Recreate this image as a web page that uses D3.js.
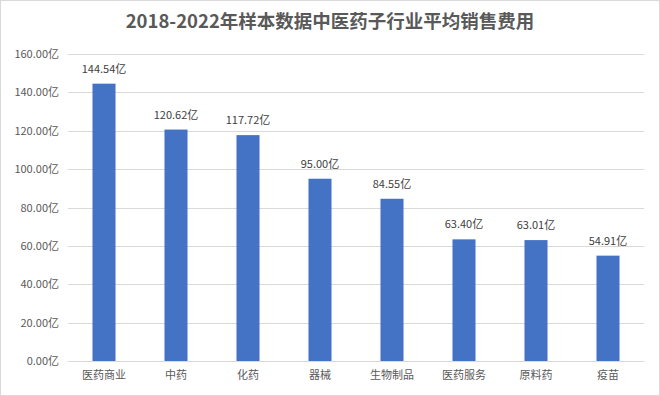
<!DOCTYPE html>
<html>
<head>
<meta charset="utf-8">
<script src="https://cdn.jsdelivr.net/npm/d3@7"></script>
<style>
  body { margin: 0; background: #fff; }
  svg { display: block; font-family: "Noto Sans CJK SC", "Noto Sans", sans-serif; }
</style>
</head>
<body>
<svg id="chart" width="660" height="396"></svg>
<script>
const categories = ["医药商业", "中药", "化药", "器械", "生物制品", "医药服务", "原料药", "疫苗"];
const values = [144.54, 120.62, 117.72, 95.00, 84.55, 63.40, 63.01, 54.91];
const yTicks = [0, 20, 40, 60, 80, 100, 120, 140, 160];
const title = "2018-2022年样本数据中医药子行业平均销售费用";

const W = 660, H = 396;
const margin = {top: 54, right: 16, bottom: 35, left: 68};

const svg = d3.select("#chart");

svg.append("rect")
  .attr("x", 0.5).attr("y", 0.5)
  .attr("width", W - 1).attr("height", H - 1)
  .attr("fill", "#fff")
  .attr("stroke", "#d9d9d9");

svg.append("text")
  .attr("x", W / 2)
  .attr("y", 28)
  .attr("text-anchor", "middle")
  .attr("font-size", 18.5)
  .attr("font-weight", "bold")
  .attr("fill", "#595959")
  .text(title);

const x = d3.scaleBand()
  .domain(categories)
  .range([margin.left, W - margin.right])
  .paddingInner(0.68)
  .paddingOuter(0.34);

const y = d3.scaleLinear()
  .domain([0, 160])
  .range([H - margin.bottom, margin.top]);

// gridlines
svg.append("g")
  .selectAll("line")
  .data(yTicks)
  .join("line")
  .attr("x1", margin.left)
  .attr("x2", W - margin.right)
  .attr("y1", d => Math.round(y(d)) + 0.5)
  .attr("y2", d => Math.round(y(d)) + 0.5)
  .attr("stroke", "#d9d9d9");

// y axis labels
const yAxis = d3.axisLeft(y)
  .tickValues(yTicks)
  .tickSize(0)
  .tickPadding(9)
  .tickFormat(d => d.toFixed(2) + "亿");

svg.append("g")
  .attr("transform", `translate(${margin.left},0)`)
  .call(yAxis)
  .call(g => g.select(".domain").remove())
  .call(g => g.selectAll("text")
    .attr("font-size", 11)
    .attr("fill", "#595959")
    .attr("font-family", "\"Noto Sans CJK SC\", sans-serif"));

// x axis labels
const xAxis = d3.axisBottom(x).tickSize(0).tickPadding(10);
svg.append("g")
  .attr("transform", `translate(0,${H - margin.bottom})`)
  .call(xAxis)
  .call(g => g.select(".domain").remove())
  .call(g => g.selectAll("text")
    .attr("font-size", 11)
    .attr("fill", "#595959")
    .attr("font-family", "\"Noto Sans CJK SC\", sans-serif"));

// bars
svg.append("g")
  .selectAll("rect")
  .data(values)
  .join("rect")
  .attr("x", (d, i) => x(categories[i]))
  .attr("y", d => y(d))
  .attr("width", x.bandwidth())
  .attr("height", d => y(0) - y(d))
  .attr("fill", "#4472c4");

// value labels
svg.append("g")
  .selectAll("text")
  .data(values)
  .join("text")
  .attr("x", (d, i) => x(categories[i]) + x.bandwidth() / 2)
  .attr("y", d => y(d) - 11)
  .attr("text-anchor", "middle")
  .attr("font-size", 11)
  .attr("fill", "#404040")
  .text(d => d.toFixed(2) + "亿");
</script>
</body>
</html>
